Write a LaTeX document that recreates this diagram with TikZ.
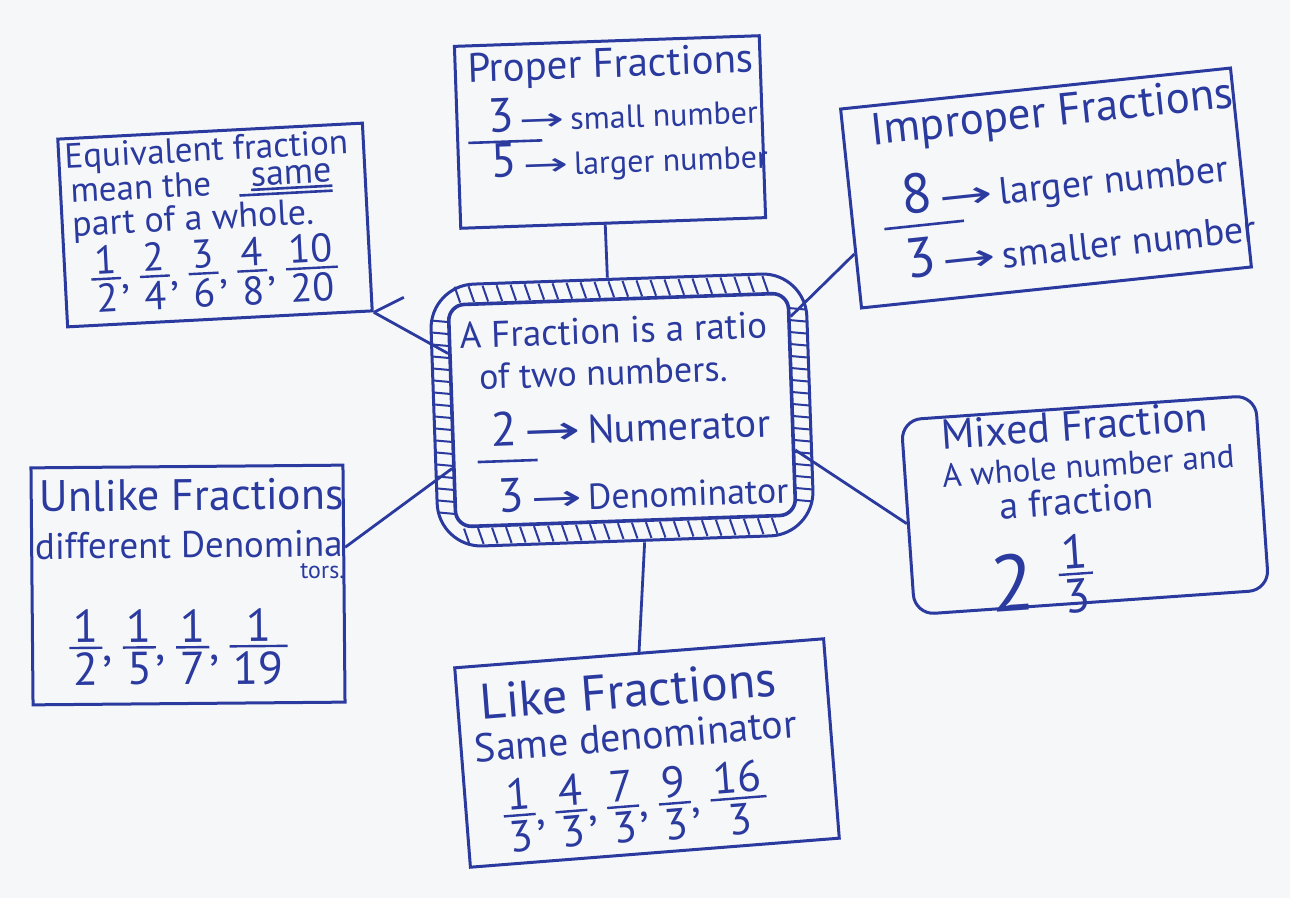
\documentclass[tikz,border=0pt]{standalone}
\usepackage{fontspec}
\setmainfont{PT Sans}
\newfontfamily\arrfont{DejaVu Sans}
\usetikzlibrary{calc}
\definecolor{ink}{RGB}{42,58,158}
\definecolor{paper}{RGB}{246,247,249}
\newcommand\fr[2]{\ensuremath{\vcenter{\tabskip=2pt\halign{\hfil##\hfil\cr #1\cr\noalign{\kern2pt\hrule height 1.2pt\kern2pt}#2\cr}}}}
\newcommand\cm{,\hspace{5pt}}
\newcommand\arr{{\arrfont\scalebox{1.7}[1]{→}}}
\newcommand\sz[2]{{\fontsize{#1}{#1}\selectfont #2}}
\tikzset{
  box/.style={draw=ink, line width=1.5pt, rectangle, inner sep=0pt, minimum width=#1*0.5pt},
  bh/.style={minimum height=#1*0.5pt},
  txt/.style={text=ink, inner sep=0pt},
  fs/.style={font=\fontsize{#1}{#1}\selectfont},
  conn/.style={draw=ink, line width=1.4pt},
  bar/.style={draw=ink, line width=1.3pt},
  hatch/.style={draw=ink, line width=1pt}
}
\begin{document}
\begin{tikzpicture}[x=0.5pt, y=-0.5pt]
\fill[paper] (0,0) rectangle (1290,898);
\useasboundingbox (0,0) rectangle (1290,898);

% Equivalent fraction
\begin{scope}[shift={(215,225)}, rotate=3, transform shape]
  \node[box=305, bh=188] (eq) at (0,0) {};
  \node[txt, fs=17.5, anchor=west] (eq1) at (-147,-73) {Equivalent fraction};
  \node[txt, fs=17.5, anchor=west] (eq2) at (-143,-42) {mean the};
  \node[txt, fs=18, anchor=west] (eqsame) at (38,-46) {same};
  \node[txt, fs=18, anchor=west] (eq3) at (-143,-5) {part of a whole.};
  \node[txt, fs=20] (eq4) at (-3,48) {\fr{1}{2}\cm\fr{2}{4}\cm\fr{3}{6}\cm\fr{4}{8}\cm\fr{10}{20}};
  \draw[bar] ([yshift=-1.5pt]eqsame.south west) -- ([yshift=-1.5pt]eqsame.south east);
  \draw[bar] ([yshift=-4pt,xshift=-6pt]eqsame.south west) -- ([yshift=-4pt]eqsame.south east);
\end{scope}

% Proper fractions
\begin{scope}[shift={(610,132)}, rotate=2, transform shape]
  \node[box=305, bh=182] (prop) at (0,0) {};
  \node[txt, fs=20.5] (prop1) at (3,-65) {Proper Fractions};
  \node[txt, fs=16, anchor=west] (prop2) at (-122,-20) {\sz{24}{3}\,\arr\,small number};
  \node[txt, fs=16, anchor=west] (prop3) at (-120,28) {\sz{24}{5}\,\arr\,larger number};
  \draw[bar] (-142,6) -- (-68,6);
\end{scope}

% Improper fractions
\begin{scope}[shift={(1046,188)}, rotate=6, transform shape]
  \node[box=392, bh=200] (imp) at (0,0) {};
  \node[txt, fs=22.5] (imp1) at (14,-72) {Improper Fractions};
  \node[txt, fs=19, anchor=west] (imp2) at (-145,-4) {\sz{28}{8}\,\arr\,larger number};
  \node[txt, fs=19, anchor=west] (imp3) at (-148,56) {\sz{28}{3}\,\arr\,smaller number};
  \draw[bar] (-165,24) -- (-85,24);
\end{scope}

% Central node
\begin{scope}[shift={(622,410)}, rotate=2, transform shape]
  \node[draw=ink, line width=1.5pt, rectangle, rounded corners=22pt, minimum width=188pt, minimum height=131pt] (cenout) at (0,0) {};
  \node[draw=ink, line width=1.8pt, rectangle, rounded corners=8pt, minimum width=170pt, minimum height=111pt] (cen) at (0,0) {};
  \foreach \x in {-160,-146,...,160} {
    \draw[hatch] (\x-3,-129) -- (\x+2,-113);
    \draw[hatch] (\x-2,113) -- (\x+3,129);
  }
  \foreach \y in {-96,-84,...,96} {
    \draw[hatch] (-187,\y) -- (-171,\y+2);
    \draw[hatch] (171,\y) -- (187,\y+2);
  }
  \node[txt, fs=18.5, anchor=west] (cen1) at (-160,-80) {A Fraction is a ratio};
  \node[txt, fs=18, anchor=west] (cen2) at (-142,-38) {of two numbers.};
  \node[txt, fs=20, anchor=west] (cen3) at (-132,15) {\sz{24}{2}\,\arr\,Numerator};
  \node[txt, fs=18, anchor=west] (cen4) at (-127,82) {\sz{24}{3}\,\arr\,Denominator};
  \draw[bar] (-146,47) -- (-86,47);
\end{scope}

% Mixed fraction
\begin{scope}[shift={(1085,505)}, rotate=4, transform shape]
  \node[box=355, bh=195, rounded corners=10pt] (mix) at (0,0) {};
  \node[txt, fs=21] (mix1) at (-5,-80) {Mixed Fraction};
  \node[txt, fs=16.5] (mix2) at (6,-39) {A whole number and};
  \node[txt, fs=19] (mix3) at (-8,-5) {a fraction};
  \node[txt, fs=40] (mix4) at (-78,72) {2};
  \node[txt, fs=24] (mix5) at (-14,68) {\fr{1}{3}};
\end{scope}

% Unlike fractions
\begin{scope}[shift={(188,585)}, rotate=0.5, transform shape]
  \node[box=312, bh=237] (unl) at (0,0) {};
  \node[txt, fs=22, anchor=west] (unl1) at (-148,-90) {Unlike Fractions};
  \node[txt, fs=18.5, anchor=west] (unl2) at (-153,-40) {different Denomina};
  \node[txt, fs=12, anchor=west] (unl3) at (112,-13) {tors.};
  \node[txt, fs=23] (unl4) at (-10,62) {\fr{1}{2}\cm\fr{1}{5}\cm\fr{1}{7}\cm\fr{1}{19}};
\end{scope}

% Like fractions
\begin{scope}[shift={(647,753)}, rotate=4.5, transform shape]
  \node[box=370, bh=200] (like) at (0,0) {};
  \node[txt, fs=25] (like1) at (-14,-64) {Like Fractions};
  \node[txt, fs=20] (like2) at (-10,-18) {Same denominator};
  \node[txt, fs=22] (like3) at (-16,52) {\fr{1}{3}\cm\fr{4}{3}\cm\fr{7}{3}\cm\fr{9}{3}\cm\fr{16}{3}};
\end{scope}

% connectors
\draw[conn] ($(prop.south)+(-8,0)$) -- ($(cenout.north)+(-10,0)$);
\draw[conn] ($(cenout.south)+(18,0)$) -- (like.north);
\draw[conn] (cen.160) -- (eq.south east);
\draw[conn] (eq.south east) -- ++(30,-15);
\draw[conn] (cen.197) -- (unl.13);
\draw[conn] (cen.27) -- (imp.193);
\draw[conn] (cen.-15) -- (mix.182);
\end{tikzpicture}
\end{document}
